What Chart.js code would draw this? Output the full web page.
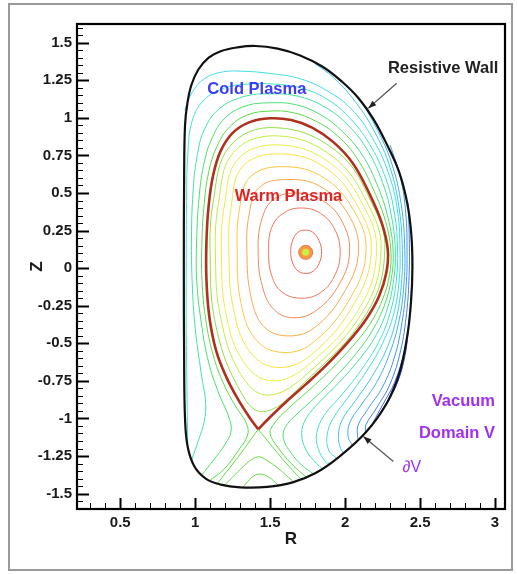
<!DOCTYPE html>
<html>
<head>
<meta charset="utf-8">
<script src="https://cdn.jsdelivr.net/npm/chart.js"></script>
<style>
  html, body { margin: 0; padding: 0; background: #fff; }
  #frame { position: absolute; left: 8px; top: 3px; width: 501px; height: 564px; border: 2px solid #9a9a9a; }
  #wrap { position: absolute; left: 0; top: 0; width: 517px; height: 574px; }
</style>
</head>
<body>
<div id="frame"></div>
<div id="wrap"><canvas id="c" width="517" height="574"></canvas></div>
<script>
// axis ticks
const xTicks = [0.5, 1, 1.5, 2, 2.5, 3];
const yTicks = [-1.5, -1.25, -1, -0.75, -0.5, -0.25, 0, 0.25, 0.5, 0.75, 1, 1.25, 1.5];

// [R, Z] points
const magneticAxis = [[1.737, 0.105]];

const wall = [[1.278,1.468],[1.40,1.478],[1.55,1.46],[1.70,1.415],[1.85,1.34],[1.98,1.24],[2.09,1.13],[2.19,0.99],
  [2.28,0.82],[2.36,0.64],[2.415,0.43],[2.442,0.22],[2.449,0.0],[2.44,-0.22],[2.415,-0.45],[2.362,-0.70],[2.28,-0.895],
  [2.14,-1.09],[1.96,-1.255],[1.80,-1.365],[1.65,-1.425],[1.48,-1.455],[1.30,-1.458],[1.17,-1.44],[1.07,-1.40],
  [0.995,-1.32],[0.95,-1.19],[0.932,-1.0],[0.926,-0.6],[0.924,0.0],[0.926,0.6],[0.932,0.95],[0.948,1.10],[0.975,1.22],
  [1.02,1.32],[1.09,1.40],[1.17,1.443]];

const separatrix = [[1.42,-1.072],[1.36,-0.99],[1.29,-0.88],[1.21,-0.73],[1.14,-0.55],[1.095,-0.33],[1.075,-0.08],
  [1.075,0.18],[1.09,0.42],[1.12,0.62],[1.17,0.78],[1.25,0.90],[1.36,0.97],[1.50,0.997],[1.64,0.985],[1.78,0.935],
  [1.92,0.84],[2.05,0.70],[2.16,0.50],[2.245,0.30],[2.285,0.12],[2.275,-0.03],[2.225,-0.19],[2.14,-0.34],[2.03,-0.48],
  [1.88,-0.64],[1.73,-0.78],[1.60,-0.895],[1.49,-1.00],[1.42,-1.072]];

// closed flux surfaces inside the separatrix, centre outward
const ring1 = [[1.843,0.11],[1.825,0.185],[1.785,0.238],[1.735,0.253],[1.685,0.238],[1.650,0.185],[1.637,0.11],
  [1.650,0.035],[1.685,-0.018],[1.738,-0.035],[1.790,-0.018],[1.828,0.035]];
const ring2 = [[1.967,0.11],[1.93,0.26],[1.835,0.365],[1.715,0.40],[1.595,0.37],[1.51,0.27],[1.49,0.10],[1.51,-0.05],
  [1.58,-0.16],[1.71,-0.20],[1.84,-0.16],[1.935,-0.04]];
const ring3 = [[2.03,0.11],[1.98,0.31],[1.85,0.45],[1.68,0.50],[1.52,0.455],[1.44,0.31],[1.42,0.10],[1.445,-0.11],
  [1.52,-0.27],[1.65,-0.33],[1.81,-0.28],[1.965,-0.10]];
const ring4 = [[2.09,0.12],[2.02,0.36],[1.84,0.54],[1.63,0.59],[1.43,0.54],[1.36,0.36],[1.345,0.10],[1.37,-0.18],
  [1.45,-0.38],[1.60,-0.45],[1.79,-0.40],[2.00,-0.15]];
const ring5 = [[2.14,0.12],[2.06,0.38],[1.86,0.60],[1.60,0.675],[1.37,0.61],[1.295,0.39],[1.28,0.10],[1.305,-0.23],
  [1.40,-0.47],[1.57,-0.56],[1.78,-0.50],[2.04,-0.19]];
const ring6 = [[2.175,0.12],[2.09,0.40],[1.88,0.66],[1.58,0.76],[1.32,0.68],[1.24,0.41],[1.225,0.09],[1.255,-0.27],
  [1.36,-0.55],[1.54,-0.66],[1.77,-0.58],[2.07,-0.22]];
const ring7 = [[2.21,0.12],[2.125,0.41],[1.90,0.70],[1.56,0.82],[1.285,0.725],[1.195,0.42],[1.175,0.08],[1.205,-0.30],
  [1.32,-0.62],[1.51,-0.75],[1.76,-0.64],[2.105,-0.25]];
const ring8 = [[2.24,0.12],[2.155,0.42],[1.92,0.74],[1.55,0.88],[1.255,0.77],[1.155,0.43],[1.135,0.07],[1.17,-0.33],
  [1.30,-0.70],[1.48,-0.845],[1.75,-0.70],[2.13,-0.27]];
const ring9 = [[2.265,0.12],[2.18,0.43],[1.94,0.78],[1.53,0.935],[1.23,0.81],[1.12,0.44],[1.10,0.06],[1.135,-0.37],
  [1.28,-0.78],[1.45,-0.955],[1.75,-0.74],[2.15,-0.29]];

// open field lines outside the separatrix, inner to outer
const sol1 = [[1.10,-1.41],[1.19,-1.34],[1.29,-1.21],[1.35,-1.11],[1.34,-1.03],[1.27,-0.92],[1.19,-0.77],[1.12,-0.58],
  [1.07,-0.34],[1.045,-0.08],[1.045,0.18],[1.06,0.43],[1.09,0.64],[1.145,0.81],[1.23,0.94],[1.35,1.02],[1.50,1.045],
  [1.65,1.035],[1.80,0.98],[1.95,0.88],[2.08,0.73],[2.19,0.52],[2.27,0.31],[2.305,0.12],[2.295,-0.05],[2.245,-0.22],
  [2.16,-0.38],[2.05,-0.52],[1.90,-0.68],[1.75,-0.82],[1.62,-0.935],[1.53,-1.03],[1.50,-1.10],[1.55,-1.19],
  [1.64,-1.30],[1.74,-1.39]];
const sol2 = [[1.04,-1.38],[1.12,-1.28],[1.20,-1.17],[1.24,-1.08],[1.22,-0.98],[1.16,-0.84],[1.09,-0.63],[1.04,-0.36],
  [1.01,-0.08],[1.01,0.20],[1.025,0.46],[1.055,0.68],[1.11,0.86],[1.20,1.00],[1.34,1.08],[1.50,1.10],[1.66,1.09],
  [1.82,1.03],[1.97,0.92],[2.11,0.76],[2.22,0.54],[2.29,0.32],[2.32,0.12],[2.31,-0.06],[2.265,-0.24],[2.185,-0.41],
  [2.08,-0.56],[1.94,-0.72],[1.80,-0.86],[1.68,-0.97],[1.60,-1.06],[1.59,-1.14],[1.64,-1.23],[1.71,-1.31],[1.79,-1.37]];
const sol3 = [[0.975,-1.28],[1.02,-1.15],[1.06,-1.02],[1.07,-0.90],[1.04,-0.70],[1.00,-0.40],[0.98,-0.10],[0.975,0.20],
  [0.985,0.50],[1.01,0.73],[1.06,0.92],[1.16,1.06],[1.32,1.14],[1.50,1.16],[1.68,1.145],[1.85,1.08],[2.00,0.97],
  [2.14,0.80],[2.25,0.57],[2.31,0.34],[2.335,0.12],[2.325,-0.07],[2.285,-0.26],[2.21,-0.44],[2.10,-0.60],[1.96,-0.76],
  [1.83,-0.89],[1.74,-1.00],[1.71,-1.10],[1.74,-1.21],[1.81,-1.30],[1.85,-1.335]];
const sol4 = [[0.95,-1.17],[0.945,-0.80],[0.94,-0.40],[0.94,0.00],[0.942,0.40],[0.95,0.75],[0.98,0.98],[1.06,1.12],
  [1.20,1.20],[1.36,1.225],[1.52,1.225],[1.70,1.20],[1.87,1.13],[2.02,1.01],[2.16,0.83],[2.27,0.60],[2.33,0.36],
  [2.35,0.12],[2.342,-0.08],[2.305,-0.28],[2.235,-0.47],[2.12,-0.66],[1.98,-0.84],[1.86,-0.98],[1.81,-1.10],
  [1.82,-1.20],[1.87,-1.29],[1.895,-1.30]];
const sol5 = [[0.93,1.05],[0.98,1.17],[1.06,1.26],[1.18,1.305],[1.32,1.31],[1.50,1.295],[1.70,1.26],[1.88,1.18],
  [2.04,1.06],[2.18,0.87],[2.29,0.63],[2.35,0.38],[2.366,0.12],[2.36,-0.09],[2.325,-0.30],[2.25,-0.50],[2.14,-0.69],
  [2.02,-0.86],[1.92,-1.00],[1.88,-1.11],[1.89,-1.21],[1.94,-1.265]];
const sol6 = [[1.80,1.36],[1.92,1.27],[2.05,1.13],[2.19,0.92],[2.30,0.67],[2.36,0.40],[2.382,0.12],[2.376,-0.10],
  [2.345,-0.32],[2.28,-0.53],[2.18,-0.72],[2.07,-0.88],[1.98,-1.01],[1.955,-1.12],[1.97,-1.20],[1.99,-1.23]];
const sol7 = [[2.10,1.12],[2.20,0.95],[2.31,0.70],[2.375,0.42],[2.398,0.12],[2.392,-0.11],[2.362,-0.34],[2.30,-0.56],
  [2.21,-0.76],[2.10,-0.92],[2.03,-1.03],[2.02,-1.12],[2.045,-1.175]];
const sol8 = [[2.30,0.82],[2.37,0.60],[2.405,0.36],[2.413,0.12],[2.407,-0.12],[2.38,-0.36],[2.33,-0.59],[2.25,-0.79],
  [2.15,-0.94],[2.085,-1.05],[2.085,-1.135]];
const sol9 = [[2.42,0.43],[2.428,0.20],[2.427,-0.05],[2.41,-0.30],[2.37,-0.55],[2.30,-0.77],[2.21,-0.93],[2.14,-1.04],
  [2.135,-1.095]];
const sol10 = [[2.444,-0.12],[2.43,-0.32],[2.395,-0.55],[2.33,-0.76],[2.25,-0.91],[2.185,-1.03]];
const sol11 = [[2.42,-0.42],[2.40,-0.58],[2.35,-0.76],[2.28,-0.89],[2.235,-0.96]];
const sol12 = [[2.385,-0.60],[2.35,-0.72],[2.30,-0.85],[2.275,-0.905]];

// divertor legs and private flux region
const legLeft = [[1.42,-1.072],[1.35,-1.17],[1.26,-1.29],[1.15,-1.43]];
const legRight = [[1.42,-1.072],[1.50,-1.17],[1.60,-1.29],[1.70,-1.40]];
const privateArc1 = [[1.20,-1.44],[1.29,-1.35],[1.36,-1.285],[1.42,-1.255],[1.48,-1.28],[1.55,-1.33],[1.65,-1.415]];
const privateArc2 = [[1.32,-1.455],[1.38,-1.39],[1.43,-1.37],[1.49,-1.39],[1.55,-1.44]];

const pts = a => a.map(([x, y]) => ({x, y}));
const curve = (data, color, width, closed) => ({
  data: pts(data), showLine: true, borderColor: color, borderWidth: width,
  pointRadius: 0, tension: 0.4, fill: false, closed: !!closed
});

// first dataset is drawn on top
const datasets = [
  {data: pts(magneticAxis), pointRadius: 3.5, backgroundColor: '#c8f048', borderWidth: 0},
  {data: pts(magneticAxis), pointRadius: 7, backgroundColor: '#f89a40', borderColor: '#f07050', borderWidth: 1},
  curve(wall, '#111', 2.2, true),
  curve(separatrix, '#b0301e', 2.6),
  curve(ring9, '#8ee044', 1, true),
  curve(ring8, '#c4ec40', 1, true),
  curve(ring7, '#e8f040', 1, true),
  curve(ring6, '#f8e440', 1, true),
  curve(ring5, '#f8c840', 1, true),
  curve(ring4, '#f8a848', 1, true),
  curve(ring3, '#f48850', 1, true),
  curve(ring2, '#f07458', 1, true),
  curve(ring1, '#f06860', 1, true),
  curve(sol1, '#58dc48', 1),
  curve(sol2, '#48e070', 1),
  curve(sol3, '#40e4a0', 1),
  curve(sol4, '#40e4cc', 1),
  curve(sol5, '#40dce8', 1),
  curve(sol6, '#40c8f0', 1),
  curve(sol7, '#40b0f0', 1),
  curve(sol8, '#4098f0', 1),
  curve(sol9, '#4080f0', 1),
  curve(sol10, '#4468f0', 1),
  curve(sol11, '#4850ec', 1),
  curve(sol12, '#4040e0', 1),
  curve(legLeft, '#60e040', 1),
  curve(legRight, '#60e040', 1),
  curve(privateArc1, '#60e040', 1),
  curve(privateArc2, '#60e040', 1)
];

// make closed contours draw as loops (same flags the radar chart uses)
const closeLoops = {
  id: 'closeLoops',
  afterDatasetUpdate(chart, args) {
    if (chart.data.datasets[args.index].closed && args.meta.dataset) {
      const line = args.meta.dataset;
      line._loop = true;
      line._fullLoop = true;
      line._pointsUpdated = false;
      delete line._segments;
      delete line._path;
    }
  }
};

// inward tick marks and the black box
const frameAndTicks = {
  id: 'frameAndTicks',
  afterDraw(chart) {
    const {ctx, chartArea: a, scales: {x, y}} = chart;
    ctx.save();
    ctx.strokeStyle = '#000';
    for (let i = 3; i <= 30; i++) {
      const px = Math.round(x.getPixelForValue(i / 10)) + 0.5;
      const major = i % 5 === 0;
      ctx.lineWidth = major ? 2 : 1;
      ctx.beginPath();
      ctx.moveTo(px, a.bottom);
      ctx.lineTo(px, a.bottom - (major ? 11 : 6));
      ctx.stroke();
    }
    for (let i = -32; i <= 32; i++) {
      const py = Math.round(y.getPixelForValue(i * 0.05)) + 0.5;
      const major = i % 5 === 0;
      ctx.lineWidth = major ? 2 : 1;
      ctx.beginPath();
      ctx.moveTo(a.left, py);
      ctx.lineTo(a.left + (major ? 12 : 6), py);
      ctx.stroke();
    }
    ctx.lineWidth = 2.2;
    ctx.strokeRect(a.left, a.top, a.right - a.left, a.bottom - a.top);
    ctx.restore();
  }
};

const notes = {
  id: 'notes',
  afterDatasetsDraw(chart) {
    const {ctx, scales: {x, y}} = chart;
    const bold = 'bold 16.5px "Liberation Sans", Arial, sans-serif';
    const put = (text, r, z, color, align, font) => {
      ctx.font = font || bold;
      ctx.fillStyle = color;
      ctx.textAlign = align;
      ctx.textBaseline = 'middle';
      ctx.fillText(text, x.getPixelForValue(r), y.getPixelForValue(z));
    };
    const arrow = (r0, z0, r1, z1) => {
      const x0 = x.getPixelForValue(r0), y0 = y.getPixelForValue(z0);
      const x1 = x.getPixelForValue(r1), y1 = y.getPixelForValue(z1);
      const ang = Math.atan2(y1 - y0, x1 - x0);
      ctx.strokeStyle = '#555';
      ctx.lineWidth = 1.2;
      ctx.beginPath();
      ctx.moveTo(x0, y0);
      ctx.lineTo(x1, y1);
      ctx.stroke();
      ctx.fillStyle = '#222';
      ctx.beginPath();
      ctx.moveTo(x1, y1);
      ctx.lineTo(x1 - 8 * Math.cos(ang) + 3 * Math.sin(ang), y1 - 8 * Math.sin(ang) - 3 * Math.cos(ang));
      ctx.lineTo(x1 - 8 * Math.cos(ang) - 3 * Math.sin(ang), y1 - 8 * Math.sin(ang) + 3 * Math.cos(ang));
      ctx.closePath();
      ctx.fill();
    };
    ctx.save();
    put('Cold Plasma', 1.411, 1.186, '#3c3cf8', 'center');
    put('Warm Plasma', 1.622, 0.476, '#e02424', 'center');
    put('Resistive Wall', 3.022, 1.33, '#222', 'right');
    put('Vacuum', 3.0, -0.887, '#a030f0', 'right');
    put('Domain V', 3.0, -1.097, '#a030f0', 'right');
    put('\u2202V', 2.445, -1.328, '#a030f0', 'center', '16px "Liberation Sans", Arial, sans-serif');
    arrow(2.344, 1.23, 2.155, 1.064);
    arrow(2.322, -1.286, 2.122, -1.12);
    ctx.restore();
  }
};

const tickFont = {family: '"Liberation Sans", Arial, sans-serif', size: 15, weight: 'bold'};
const titleFont = {family: '"Liberation Sans", Arial, sans-serif', size: 17, weight: 'bold'};

new Chart(document.getElementById('c'), {
  type: 'scatter',
  data: {datasets},
  plugins: [closeLoops, notes, frameAndTicks],
  options: {
    responsive: false,
    devicePixelRatio: 1,
    animation: false,
    events: [],
    layout: {padding: {left: 0, right: 12, top: 24, bottom: 0}},
    plugins: {legend: {display: false}, tooltip: {enabled: false}},
    scales: {
      x: {
        type: 'linear', min: 0.2113, max: 3.0667,
        grid: {display: false, drawTicks: false}, border: {display: false},
        afterBuildTicks: s => { s.ticks = xTicks.map(v => ({value: v})); },
        afterFit: s => { s.height = 65; },
        ticks: {font: tickFont, color: '#1a1a1a', padding: 5, maxRotation: 0, autoSkip: false, callback: v => String(v)},
        title: {display: true, text: 'R', font: titleFont, color: '#1a1a1a', padding: {top: 24, bottom: 24}}
      },
      y: {
        type: 'linear', min: -1.6024, max: 1.6243,
        grid: {display: false, drawTicks: false}, border: {display: false},
        afterBuildTicks: s => { s.ticks = yTicks.map(v => ({value: v})); },
        afterFit: s => { s.width = 77; },
        ticks: {font: tickFont, color: '#1a1a1a', padding: 5, autoSkip: false, callback: v => String(v)},
        title: {display: true, text: 'Z', font: titleFont, color: '#1a1a1a', padding: {top: 27, bottom: 27}}
      }
    }
  }
});
</script>
</body>
</html>
